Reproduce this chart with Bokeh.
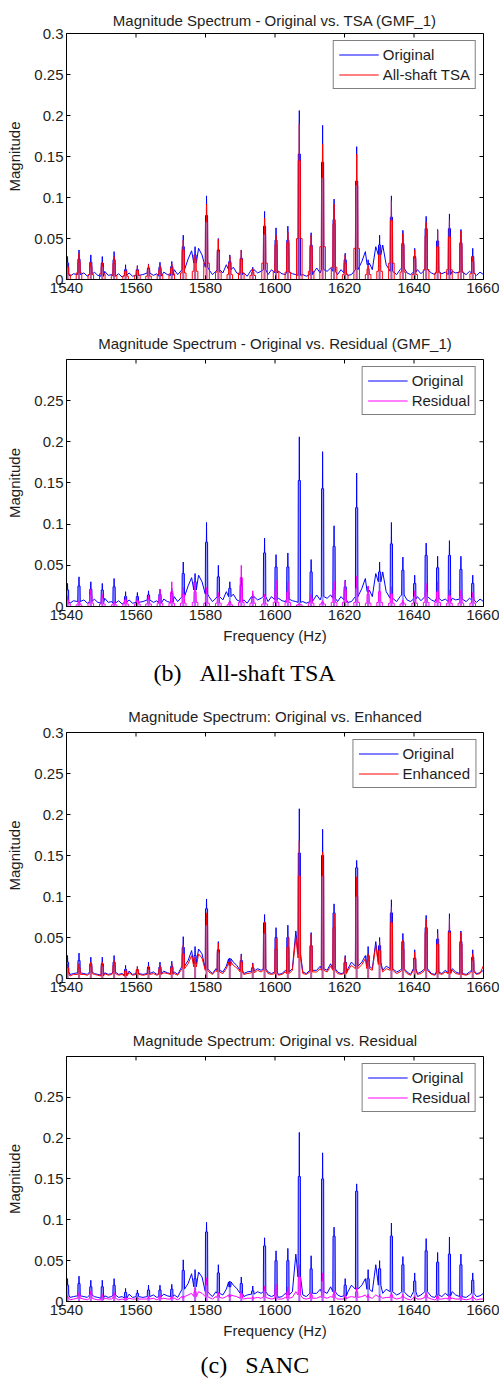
from bokeh.plotting import figure
from bokeh.models import (Range1d, FixedTicker, CustomJSTickFormatter,
                          Legend, LegendItem, Title)
from bokeh.layouts import column
from bokeh.embed import file_html
from bokeh.resources import INLINE

# ---------------- data ----------------
x_ticks = [1540, 1560, 1580, 1600, 1620, 1640, 1660]
y_ticks_full = [0, 0.05, 0.1, 0.15, 0.2, 0.25, 0.3]
y_ticks_short = [0, 0.05, 0.1, 0.15, 0.2, 0.25]

# gear-mesh harmonic / sideband lines (Hz)
harm = [1540.3, 1543.6, 1547.0, 1550.3, 1553.7, 1557.0, 1560.4, 1563.6, 1566.9, 1570.3,
        1573.6, 1577.0, 1580.3, 1583.7, 1587.0, 1590.3, 1593.6, 1597.0, 1600.3, 1603.7,
        1607.0, 1610.4, 1613.7, 1617.0, 1620.2, 1623.5, 1626.8, 1630.1, 1633.5, 1636.8,
        1640.2, 1643.5, 1646.8, 1650.2, 1653.5, 1656.9]

# --- All-shaft TSA case ---
origA_pk = [0.028, 0.036, 0.030, 0.028, 0.034, 0.018, 0.017, 0.019, 0.021, 0.022,
            0.054, 0.040, 0.102, 0.050, 0.030, 0.036, 0.015, 0.083, 0.063, 0.065,
            0.206, 0.057, 0.188, 0.098, 0.032, 0.162, 0.024, 0.054, 0.102, 0.060,
            0.038, 0.077, 0.061, 0.080, 0.061, 0.038]
origA_sh = [0.020, 0.025, 0.021, 0.020, 0.024, 0.012, 0.012, 0.014, 0.015, 0.016,
            0.040, 0.030, 0.078, 0.036, 0.022, 0.026, 0.011, 0.065, 0.048, 0.048,
            0.153, 0.042, 0.143, 0.073, 0.024, 0.120, 0.018, 0.042, 0.076, 0.044,
            0.028, 0.062, 0.047, 0.062, 0.045, 0.028]
tsa_pk = [0.019, 0.032, 0.021, 0.021, 0.028, 0.013, 0.016, 0.018, 0.017, 0.019,
          0.048, 0.030, 0.092, 0.049, 0.028, 0.036, 0.013, 0.075, 0.054, 0.058,
          0.190, 0.054, 0.165, 0.092, 0.030, 0.153, 0.017, 0.040, 0.096, 0.056,
          0.036, 0.070, 0.060, 0.072, 0.059, 0.028]
tsa_sh = [0.015, 0.022, 0.016, 0.016, 0.020, 0.010, 0.011, 0.013, 0.012, 0.014,
          0.036, 0.025, 0.070, 0.034, 0.020, 0.025, 0.009, 0.055, 0.042, 0.045,
          0.145, 0.040, 0.124, 0.068, 0.020, 0.115, 0.013, 0.030, 0.072, 0.042,
          0.026, 0.053, 0.040, 0.052, 0.043, 0.022]
tsa_box = [0.006, 0.008, 0.006, 0.007, 0.005, 0.004, 0.005, 0.004, 0.006, 0.007,
           0.008, 0.010, 0.020, 0.009, 0.006, 0.008, 0.005, 0.020, 0.010, 0.009,
           0.050, 0.010, 0.040, 0.015, 0.006, 0.038, 0.006, 0.010, 0.020, 0.009,
           0.006, 0.012, 0.008, 0.012, 0.009, 0.007]
residA_pk = [0.013, 0.007, 0.021, 0.015, 0.006, 0.012, 0.011, 0.013, 0.021, 0.030,
             0.023, 0.030, 0.023, 0.017, 0.007, 0.050, 0.019, 0.015, 0.032, 0.030,
             0.004, 0.015, 0.007, 0.031, 0.031, 0.037, 0.025, 0.028, 0.024, 0.008,
             0.019, 0.028, 0.030, 0.020, 0.020, 0.017]
residA_sh = [0.008, 0.005, 0.014, 0.010, 0.004, 0.008, 0.007, 0.008, 0.012, 0.018,
             0.015, 0.018, 0.015, 0.011, 0.005, 0.035, 0.012, 0.010, 0.020, 0.018,
             0.003, 0.010, 0.005, 0.020, 0.020, 0.022, 0.015, 0.018, 0.015, 0.005,
             0.012, 0.018, 0.018, 0.013, 0.013, 0.011]
residA_box = [0.003, 0.002, 0.004, 0.003, 0.002, 0.003, 0.003, 0.003, 0.004, 0.004,
              0.004, 0.005, 0.004, 0.004, 0.002, 0.005, 0.004, 0.003, 0.005, 0.005,
              0.002, 0.004, 0.003, 0.005, 0.005, 0.005, 0.004, 0.005, 0.004, 0.003,
              0.004, 0.005, 0.005, 0.004, 0.004, 0.004]

# --- SANC case ---
origB_pk = [0.028, 0.031, 0.026, 0.026, 0.028, 0.016, 0.014, 0.020, 0.020, 0.021,
            0.051, 0.039, 0.097, 0.045, 0.025, 0.030, 0.019, 0.078, 0.062, 0.065,
            0.207, 0.056, 0.182, 0.091, 0.028, 0.144, 0.039, 0.050, 0.096, 0.055,
            0.035, 0.077, 0.060, 0.079, 0.058, 0.035]
origB_sh = [0.020, 0.022, 0.018, 0.018, 0.020, 0.011, 0.010, 0.014, 0.014, 0.015,
            0.038, 0.028, 0.085, 0.035, 0.018, 0.022, 0.013, 0.068, 0.050, 0.050,
            0.153, 0.040, 0.150, 0.080, 0.020, 0.135, 0.028, 0.040, 0.080, 0.045,
            0.025, 0.062, 0.048, 0.058, 0.045, 0.026]
enh_pk = [0.018, 0.018, 0.020, 0.020, 0.022, 0.012, 0.015, 0.015, 0.016, 0.018,
          0.041, 0.026, 0.080, 0.043, 0.022, 0.028, 0.018, 0.069, 0.049, 0.051,
          0.168, 0.054, 0.154, 0.079, 0.026, 0.124, 0.030, 0.045, 0.087, 0.047,
          0.032, 0.072, 0.055, 0.073, 0.056, 0.030]
enh_sh = [0.013, 0.013, 0.015, 0.015, 0.016, 0.009, 0.011, 0.011, 0.012, 0.013,
          0.030, 0.019, 0.065, 0.032, 0.016, 0.020, 0.013, 0.055, 0.036, 0.038,
          0.125, 0.040, 0.125, 0.062, 0.019, 0.100, 0.022, 0.034, 0.068, 0.036,
          0.024, 0.056, 0.042, 0.056, 0.042, 0.022]
residB_pk = [0.007, 0.011, 0.013, 0.009, 0.011, 0.006, 0.006, 0.006, 0.008, 0.007,
             0.007, 0.017, 0.029, 0.011, 0.009, 0.013, 0.006, 0.019, 0.021, 0.018,
             0.045, 0.011, 0.035, 0.013, 0.009, 0.017, 0.009, 0.009, 0.011, 0.009,
             0.007, 0.011, 0.009, 0.009, 0.007, 0.007]
residB_sh = [0.005, 0.008, 0.009, 0.006, 0.008, 0.004, 0.004, 0.004, 0.006, 0.005,
             0.005, 0.012, 0.020, 0.008, 0.006, 0.009, 0.004, 0.013, 0.015, 0.012,
             0.030, 0.008, 0.025, 0.009, 0.006, 0.012, 0.006, 0.006, 0.008, 0.006,
             0.005, 0.008, 0.006, 0.006, 0.005, 0.005]

# broadband floor, one reading per Hz from 1540 to 1660
floor_freq = list(range(1540, 1661))
origA_floor = [0.006, 0.004, 0.007, 0.005, 0.006, 0.008, 0.004, 0.006, 0.009, 0.005,
               0.004, 0.010, 0.005, 0.006, 0.004, 0.007, 0.003, 0.005, 0.008, 0.004,
               0.005, 0.003, 0.006, 0.004, 0.008, 0.005, 0.007, 0.004, 0.009, 0.006,
               0.005, 0.012, 0.006, 0.010, 0.012, 0.025, 0.035, 0.020, 0.038, 0.030,
               0.015, 0.012, 0.006, 0.010, 0.012, 0.008, 0.018, 0.012, 0.015, 0.008,
               0.006, 0.008, 0.004, 0.009, 0.012, 0.008, 0.010, 0.012, 0.006, 0.012,
               0.008, 0.010, 0.007, 0.006, 0.009, 0.007, 0.006, 0.005, 0.006, 0.004,
               0.006, 0.010, 0.014, 0.008, 0.012, 0.010, 0.014, 0.010, 0.006, 0.012,
               0.008, 0.005, 0.006, 0.010, 0.012, 0.022, 0.034, 0.020, 0.012, 0.040,
               0.030, 0.042, 0.018, 0.008, 0.010, 0.006, 0.012, 0.014, 0.008, 0.006,
               0.009, 0.012, 0.007, 0.006, 0.012, 0.008, 0.006, 0.010, 0.007, 0.009,
               0.006, 0.010, 0.008, 0.012, 0.009, 0.006, 0.010, 0.008, 0.005, 0.009,
               0.006]
origB_floor = [0.008, 0.005, 0.006, 0.004, 0.007, 0.006, 0.005, 0.008, 0.006, 0.005,
               0.004, 0.007, 0.005, 0.006, 0.008, 0.005, 0.006, 0.004, 0.009, 0.005,
               0.006, 0.004, 0.005, 0.007, 0.006, 0.008, 0.005, 0.006, 0.009, 0.007,
               0.006, 0.008, 0.005, 0.012, 0.015, 0.022, 0.034, 0.018, 0.036, 0.030,
               0.012, 0.010, 0.006, 0.012, 0.010, 0.008, 0.015, 0.024, 0.020, 0.016,
               0.010, 0.006, 0.008, 0.005, 0.009, 0.012, 0.010, 0.012, 0.008, 0.006,
               0.008, 0.005, 0.006, 0.010, 0.008, 0.012, 0.058, 0.030, 0.008, 0.006,
               0.010, 0.007, 0.010, 0.015, 0.012, 0.010, 0.018, 0.012, 0.008, 0.006,
               0.007, 0.012, 0.020, 0.010, 0.015, 0.020, 0.028, 0.015, 0.012, 0.045,
               0.020, 0.010, 0.015, 0.010, 0.012, 0.008, 0.010, 0.012, 0.008, 0.005,
               0.012, 0.006, 0.008, 0.010, 0.012, 0.006, 0.005, 0.008, 0.006, 0.010,
               0.007, 0.012, 0.008, 0.010, 0.006, 0.005, 0.008, 0.010, 0.006, 0.007,
               0.010]
enh_floor = [0.006, 0.003, 0.005, 0.004, 0.005, 0.005, 0.004, 0.006, 0.005, 0.004,
             0.003, 0.006, 0.004, 0.005, 0.006, 0.004, 0.005, 0.003, 0.007, 0.004,
             0.005, 0.003, 0.004, 0.006, 0.005, 0.006, 0.004, 0.005, 0.007, 0.006,
             0.005, 0.006, 0.004, 0.010, 0.012, 0.018, 0.028, 0.014, 0.030, 0.025,
             0.010, 0.008, 0.005, 0.010, 0.008, 0.006, 0.012, 0.020, 0.016, 0.013,
             0.008, 0.005, 0.006, 0.004, 0.007, 0.010, 0.008, 0.010, 0.006, 0.005,
             0.006, 0.004, 0.005, 0.008, 0.006, 0.010, 0.050, 0.025, 0.006, 0.005,
             0.008, 0.006, 0.008, 0.012, 0.010, 0.008, 0.015, 0.010, 0.006, 0.005,
             0.006, 0.010, 0.016, 0.008, 0.012, 0.017, 0.024, 0.012, 0.010, 0.040,
             0.017, 0.008, 0.012, 0.008, 0.010, 0.006, 0.008, 0.010, 0.006, 0.004,
             0.010, 0.005, 0.006, 0.008, 0.010, 0.005, 0.004, 0.006, 0.005, 0.008,
             0.006, 0.010, 0.006, 0.008, 0.005, 0.004, 0.006, 0.008, 0.005, 0.006,
             0.016]
residB_floor = [0.004, 0.002, 0.003, 0.002, 0.004, 0.003, 0.002, 0.004, 0.003, 0.002,
                0.002, 0.004, 0.003, 0.003, 0.004, 0.002, 0.003, 0.002, 0.004, 0.003,
                0.003, 0.002, 0.003, 0.004, 0.003, 0.004, 0.002, 0.003, 0.004, 0.003,
                0.003, 0.004, 0.002, 0.005, 0.006, 0.008, 0.010, 0.006, 0.012, 0.010,
                0.006, 0.005, 0.003, 0.006, 0.005, 0.004, 0.006, 0.008, 0.007, 0.006,
                0.004, 0.003, 0.004, 0.003, 0.004, 0.005, 0.004, 0.005, 0.004, 0.003,
                0.004, 0.003, 0.003, 0.005, 0.004, 0.005, 0.012, 0.008, 0.004, 0.003,
                0.004, 0.003, 0.004, 0.006, 0.005, 0.004, 0.006, 0.005, 0.003, 0.003,
                0.003, 0.005, 0.006, 0.004, 0.005, 0.006, 0.008, 0.005, 0.004, 0.008,
                0.006, 0.004, 0.005, 0.004, 0.005, 0.003, 0.004, 0.005, 0.003, 0.002,
                0.004, 0.003, 0.003, 0.004, 0.005, 0.003, 0.002, 0.003, 0.003, 0.004,
                0.003, 0.004, 0.003, 0.004, 0.003, 0.002, 0.003, 0.004, 0.002, 0.003,
                0.003]

# ---------------- helpers ----------------
FONT = "Liberation Sans"
TXT = "#1e1e1e"
BLUE = "#0000ff"
RED = "#ff0000"
MAG = "#ff00ff"
FRAME_W = 417


def floor_series(pk, sh, flo):
    """Spectrum with a broadband floor and a line cluster at each harmonic."""
    pts = []
    for g, v in zip(floor_freq, flo):
        if min(abs(g - h) for h in harm) > 0.6:
            pts.append((g, v))
    for h, p, s in zip(harm, pk, sh):
        nb = flo[int(round(h)) - floor_freq[0]]
        pts += [(h - 0.36, nb), (h - 0.3, s), (h - 0.05, s), (h, p),
                (h + 0.05, s), (h + 0.3, s), (h + 0.36, nb)]
    pts.sort()
    return [a for a, _ in pts], [b for _, b in pts]


def comb_series(pk, sh, box):
    """Spectrum that is zero between harmonics (comb-filtered)."""
    xs, ys = [1538.0], [0.0]
    for h, p, s, b in zip(harm, pk, sh, box):
        for dx, yv in [(-0.8, 0), (-0.8, b), (-0.36, b), (-0.3, s), (-0.05, s), (0, p),
                       (0.05, s), (0.3, s), (0.36, b), (0.8, b), (0.8, 0)]:
            xs.append(h + dx)
            ys.append(yv)
    xs.append(1662.0)
    ys.append(0.0)
    return xs, ys


def spectrum(p, xs, ys, sh, color):
    p.quad(left=[h - 0.3 for h in harm], right=[h + 0.3 for h in harm],
           bottom=[0] * len(harm), top=sh, fill_color=color, fill_alpha=0.4,
           line_color=None)
    return p.line(xs, ys, line_color=color, line_width=1)


def make_fig(title, height, top, frame_h, bottom, yticks, title_standoff):
    ytop = 0.3 if yticks is y_ticks_full else 0.2999
    p = figure(width=499, height=height, x_range=Range1d(1540, 1660),
               y_range=Range1d(0, ytop),
               output_backend="svg", toolbar_location=None,
               min_border_left=66, min_border_right=16,
               min_border_top=top, min_border_bottom=bottom)
    p.title.text = title
    p.title.text_font = FONT
    p.title.text_font_size = "15px"
    p.title.text_font_style = "normal"
    p.title.text_color = TXT
    p.title.align = "center"
    p.title.standoff = title_standoff
    p.xgrid.visible = False
    p.ygrid.visible = False
    p.outline_line_color = "black"
    p.outline_line_width = 1
    p.background_fill_color = "white"

    fmt = CustomJSTickFormatter(code="return String(Math.round(tick*100)/100);")
    for ax, ticks in ((p.xaxis[0], x_ticks), (p.yaxis[0], yticks)):
        ax.ticker = FixedTicker(ticks=ticks, minor_ticks=[])
        ax.major_tick_in = 4
        ax.major_tick_out = 0
        ax.minor_tick_in = 0
        ax.minor_tick_out = 0
        ax.axis_line_color = "black"
        ax.major_tick_line_color = "black"
        ax.major_label_text_font = FONT
        ax.major_label_text_font_size = "15px"
        ax.major_label_text_color = TXT
        ax.major_label_standoff = 3
        ax.axis_label_text_font = FONT
        ax.axis_label_text_font_size = "15px"
        ax.axis_label_text_font_style = "normal"
        ax.axis_label_text_color = TXT
    p.yaxis[0].formatter = fmt
    p.yaxis[0].axis_label = "Magnitude"
    p.yaxis[0].axis_label_standoff = 8

    # inward tick marks on the top and right edges of the box (MATLAB style)
    dx = 4 * 120 / FRAME_W
    dy = 4 * ytop / frame_h
    p.segment(x0=[1660] * len(yticks), x1=[1660 - dx] * len(yticks),
              y0=yticks, y1=yticks, line_color="black", line_width=1)
    p.segment(x0=x_ticks, x1=x_ticks, y0=[ytop] * len(x_ticks),
              y1=[ytop - dy] * len(x_ticks), line_color="black", line_width=1)
    return p


def add_legend(p, r1, lab1, r2, lab2):
    leg = Legend(items=[LegendItem(label=lab1, renderers=[r1]),
                        LegendItem(label=lab2, renderers=[r2])],
                 location="top_right", margin=7, padding=5, spacing=3,
                 glyph_width=40, glyph_height=17, label_height=17, label_standoff=4,
                 label_text_font=FONT, label_text_font_size="15px",
                 label_text_color=TXT, border_line_color="black",
                 border_line_width=1, background_fill_color="white",
                 background_fill_alpha=1.0)
    p.add_layout(leg)


def add_caption(p, text, offset, standoff):
    cap = Title(text=text, align="left", offset=offset,
                text_font="Liberation Serif", text_font_size="24px",
                text_font_style="normal", text_color="black", standoff=standoff)
    p.add_layout(cap, "below")


NB = "\u00a0"

# ---------------- panel 1 ----------------
p1 = make_fig("Magnitude Spectrum - Original vs. TSA (GMF_1)", 300, 33, 246, 21,
              y_ticks_full, 10)
xa, ya = floor_series(origA_pk, origA_sh, origA_floor)
xt, yt = comb_series(tsa_pk, tsa_sh, tsa_box)
r1 = spectrum(p1, xa, ya, origA_sh, BLUE)
r2 = spectrum(p1, xt, yt, tsa_sh, RED)
add_legend(p1, r1, "Original", r2, "All-shaft TSA")

# ---------------- panel 2 ----------------
p2 = make_fig("Magnitude Spectrum - Original vs. Residual (GMF_1)", 398, 59, 247, 92,
              y_ticks_short, 16)
xr, yr = comb_series(residA_pk, residA_sh, residA_box)
r1 = spectrum(p2, xa, ya, origA_sh, BLUE)
r2 = spectrum(p2, xr, yr, residA_sh, MAG)
add_legend(p2, r1, "Original", r2, "Residual")
p2.xaxis[0].axis_label = "Frequency (Hz)"
p2.xaxis[0].axis_label_standoff = 4
add_caption(p2, "(b)" + NB * 3 + "All-shaft TSA", 87, 23)

# ---------------- panel 3 ----------------
p3 = make_fig("Magnitude Spectrum: Original vs. Enhanced", 302, 34, 246, 22,
              y_ticks_full, 15)
xb, yb = floor_series(origB_pk, origB_sh, origB_floor)
xe, ye = floor_series(enh_pk, enh_sh, enh_floor)
r1 = spectrum(p3, xb, yb, origB_sh, BLUE)
r2 = spectrum(p3, xe, ye, enh_sh, RED)
add_legend(p3, r1, "Original", r2, "Enhanced")

# ---------------- panel 4 ----------------
p4 = make_fig("Magnitude Spectrum: Original vs. Residual", 385, 56, 247, 82,
              y_ticks_short, 16)
xq, yq = floor_series(residB_pk, residB_sh, residB_floor)
r1 = spectrum(p4, xb, yb, origB_sh, BLUE)
r2 = spectrum(p4, xq, yq, residB_sh, MAG)
add_legend(p4, r1, "Original", r2, "Residual")
p4.xaxis[0].axis_label = "Frequency (Hz)"
p4.xaxis[0].axis_label_standoff = 4
add_caption(p4, "(c)" + NB * 3 + "SANC", 134, 16)

layout = column(p1, p2, p3, p4, spacing=0)
open("out.html", "w").write(file_html(layout, INLINE))
